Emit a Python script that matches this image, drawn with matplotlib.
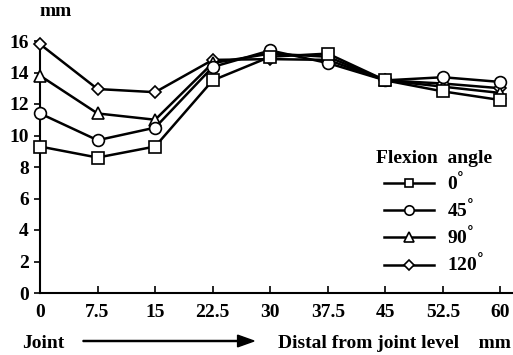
import numpy as np
import matplotlib
matplotlib.use("Agg")
from matplotlib import pyplot as plt

plt.rcParams['font.family'] = ['Liberation Serif', 'DejaVu Serif']
plt.rcParams['font.weight'] = 'bold'

# distance from joint (mm)
x = [0, 7.5, 15, 22.5, 30, 37.5, 45, 52.5, 60]
xlabels = ['0', '7.5', '15', '22.5', '30', '37.5', '45', '52.5', '60']

# width (mm) for each flexion angle
deg0 = [9.3, 8.6, 9.3, 13.5, 15.0, 15.2, 13.5, 12.8, 12.25]
deg45 = [11.4, 9.7, 10.5, 14.35, 15.4, 14.6, 13.5, 13.7, 13.4]
deg90 = [13.8, 11.4, 11.0, 14.6, 15.2, 15.0, 13.5, 13.1, 12.7]
deg120 = [15.8, 12.95, 12.75, 14.8, 14.85, 14.8, 13.5, 13.3, 13.0]

series = [(deg0, 's', 8, '0$^{\\degree}$'),
          (deg45, 'o', 8.5, '45$^{\\degree}$'),
          (deg90, '^', 8.5, '90$^{\\degree}$'),
          (deg120, 'D', 6.5, '120$^{\\degree}$')]

fs = 14

fig = plt.figure(figsize=(5.13, 3.55), dpi=100)
ax = fig.add_axes([40/513, 62/355, 472/513, 252/355])

for i, (y, m, ms, lab) in enumerate(series):
    ax.plot(x, y, color='black', lw=1.8, marker=m, ms=ms, mfc='white',
            mec='black', mew=1.2, label=lab, zorder=10 - i, clip_on=False)

ax.set_xlim(0, 61.5)
ax.set_ylim(0, 16)
ax.set_xticks(x)
ax.set_xticklabels(xlabels)
ax.set_yticks(np.arange(0, 17, 2))
ax.spines['top'].set_visible(False)
ax.spines['right'].set_visible(False)
ax.spines['left'].set_bounds(0, 16)
ax.spines['left'].set_linewidth(1.5)
ax.spines['bottom'].set_linewidth(1.5)
ax.tick_params(axis='y', direction='out', length=4, width=1.2, labelsize=fs, pad=4)
ax.tick_params(axis='x', direction='in', length=5, width=1.2, labelsize=fs, pad=8)
for t in ax.get_xticklabels() + ax.get_yticklabels():
    t.set_fontweight('bold')

fig.text(40/513, 1 - 12/355, 'mm', fontsize=fs, fontweight='bold', ha='left', va='center')

leg = ax.legend(loc='upper left', frameon=False, fontsize=fs, title='Flexion  angle',
                handlelength=2.6, handletextpad=0.65, labelspacing=0.2,
                borderaxespad=0, borderpad=0, markerscale=0.8)
leg.get_title().set_fontweight('bold')
leg.get_title().set_fontsize(fs)
leg._legend_box.align = 'center'
leg.set_bbox_to_anchor((376/513, 1 - 150/355), transform=fig.transFigure)

fig.text(22/513, 1 - 343/355, 'Joint', fontsize=fs, fontweight='bold', ha='left', va='center')
fig.text(511/513, 1 - 343/355, 'Distal from joint level    mm', fontsize=fs,
         fontweight='bold', ha='right', va='center')
fig.patches.append(matplotlib.patches.FancyArrow(
    83/513, 1 - 341/355, 171/513, 0, width=0.003, head_width=0.033,
    head_length=0.032, length_includes_head=True, color='black',
    transform=fig.transFigure, figure=fig))

fig.savefig('out.png', dpi=100)
